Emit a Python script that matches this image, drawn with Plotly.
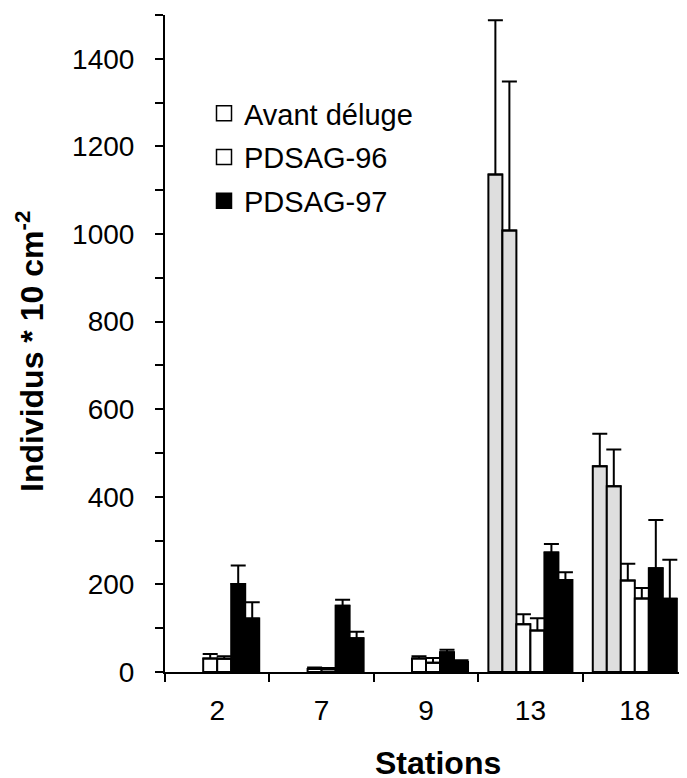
import plotly.graph_objects as go

stations = ["2", "7", "9", "13", "18"]

avant_a = [None, None, None, 1136, 470]
avant_a_err = [None, None, None, 352, 74]
avant_b = [None, None, None, 1008, 424]
avant_b_err = [None, None, None, 340, 84]

p96_a = [31, 7, 31, 109, 209]
p96_a_err = [10, 3, 5, 23, 38]
p96_b = [30, 6, 21, 95, 168]
p96_b_err = [6, 3, 11, 28, 24]

p97_a = [201, 151, 45, 273, 237]
p97_a_err = [42, 14, 6, 19, 110]
p97_b = [122, 77, 23, 210, 167]
p97_b_err = [37, 15, 4, 18, 89]

legend_names = ["Avant déluge", "PDSAG-96", "PDSAG-97"]
legend_colors = ["white", "white", "black"]

y_tickvals = [0, 200, 400, 600, 800, 1000, 1200, 1400]

FONT = "Liberation Sans, Arial, sans-serif"
GRAY = "#dedede"

# page body has an 8px margin: figure is drawn from (8, 8)
PLOT_L, PLOT_T, PLOT_W, PLOT_H = 157, 7, 522, 657
FIG_W, FIG_H = 679, 770

fig = go.Figure()

series = [
    ("a1", avant_a, avant_a_err, GRAY),
    ("a2", avant_b, avant_b_err, GRAY),
    ("b1", p96_a, p96_a_err, "white"),
    ("b2", p96_b, p96_b_err, "white"),
    ("c1", p97_a, p97_a_err, "black"),
    ("c2", p97_b, p97_b_err, "black"),
]
for key, vals, errs, col in series:
    fig.add_trace(go.Bar(
        x=stations, y=vals, offsetgroup=key, showlegend=False,
        marker=dict(color=col, line=dict(color="black", width=2)),
        error_y=dict(type="data", symmetric=False, array=errs,
                     arrayminus=[0 if e is not None else None for e in errs],
                     color="black", thickness=2, width=7.5),
    ))

for name, col in zip(legend_names, legend_colors):
    fig.add_trace(go.Scatter(
        x=[None], y=[None], mode="markers", name=name, legendgroup=name,
        marker=dict(symbol="square", size=15, color=col,
                    line=dict(color="black", width=1.5)),
    ))


def px_x(X):
    return (X - 8 - PLOT_L) / PLOT_W


def px_y(Y):
    return 1 - (Y - 8 - PLOT_T) / PLOT_H


fig.update_layout(
    width=FIG_W, height=FIG_H,
    margin=dict(l=PLOT_L, r=FIG_W - PLOT_L - PLOT_W, t=PLOT_T,
                b=FIG_H - PLOT_T - PLOT_H, pad=0),
    paper_bgcolor="white", plot_bgcolor="white",
    barmode="group", bargap=0.195, bargroupgap=0,
    font=dict(family=FONT, size=28, color="black"),
    showlegend=True,
    legend=dict(x=px_x(204), y=px_y(88),
                xanchor="left", yanchor="top",
                bgcolor="rgba(0,0,0,0)", borderwidth=0,
                traceorder="grouped", tracegroupgap=3,
                font=dict(family=FONT, size=29, color="black")),
    xaxis=dict(type="category", showline=True, linecolor="black", linewidth=2,
               ticks="outside", tickson="boundaries", ticklen=8, tickwidth=2,
               tickcolor="black", showgrid=False, zeroline=False,
               tickfont=dict(family=FONT, size=28, color="black"),
               ticklabelstandoff=12),
    yaxis=dict(range=[0, 1500], showline=True, linecolor="black", linewidth=2,
               tickvals=y_tickvals, ticks="outside", ticklen=8, tickwidth=2,
               tickcolor="black", showgrid=False, zeroline=False,
               minor=dict(dtick=100, tick0=0, ticks="outside", ticklen=8,
                          tickwidth=2, tickcolor="black", showgrid=False),
               tickfont=dict(family=FONT, size=28, color="black"),
               ticklabelstandoff=15),
    annotations=[
        dict(text="<b>Stations</b>", xref="paper", yref="paper",
             x=px_x(437.5), y=px_y(763),
             xanchor="center", yanchor="middle", showarrow=False,
             font=dict(family=FONT, size=32, color="black")),
        dict(text="<b>Individus * 10 cm<sup>-2</sup></b>", xref="paper", yref="paper",
             x=px_x(30), y=px_y(352), textangle=-90,
             xanchor="center", yanchor="middle", showarrow=False,
             font=dict(family=FONT, size=32, color="black")),
    ],
)

fig.write_html("out.html")
